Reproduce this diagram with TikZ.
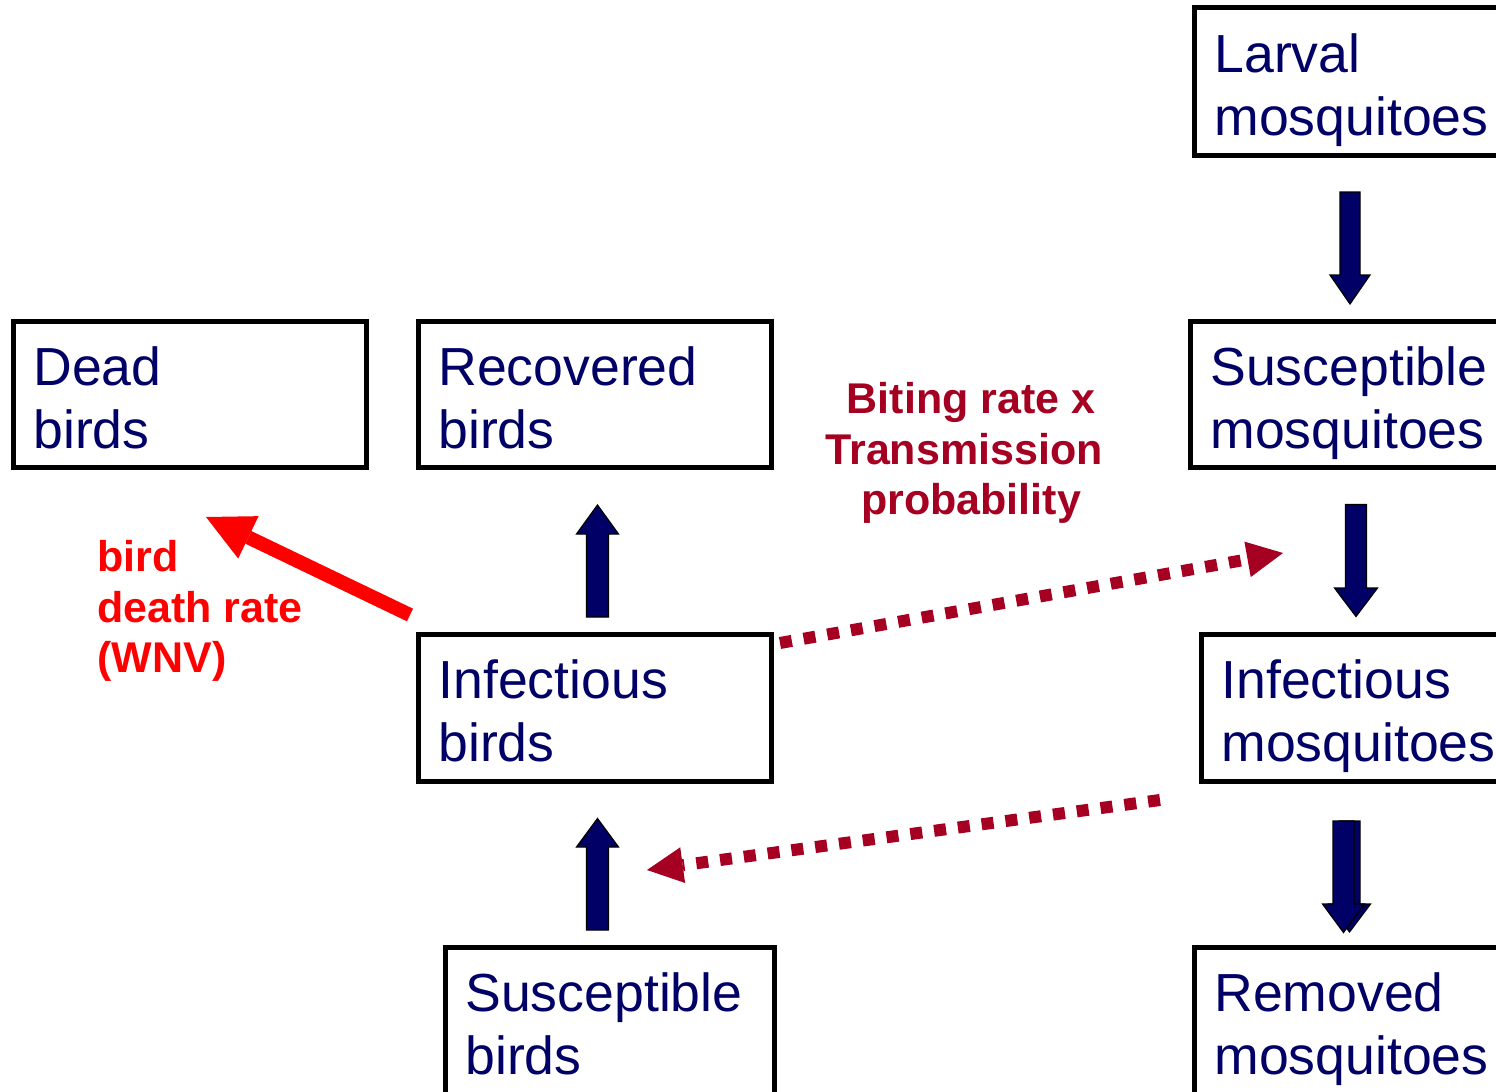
\documentclass[tikz,border=0pt]{standalone}
\usepackage{fontspec}
\setmainfont{Liberation Sans}
\usetikzlibrary{arrows.meta}
\definecolor{navy}{RGB}{0,0,102}
\definecolor{dkred}{RGB}{165,0,33}
\definecolor{brred}{RGB}{255,0,0}
% block arrow: #1 x centre, #2 start y, #3 tip y, #4 shaft half width, #5 head half width, #6 head base y
\newcommand{\blockvarrow}[6]{%
  \draw[barrow] (#1-#4,#2) -- (#1+#4,#2) -- (#1+#4,#6) -- (#1+#5,#6) -- (#1,#3)
     -- (#1-#5,#6) -- (#1-#4,#6) -- cycle;}
\begin{document}
\begin{tikzpicture}[x=0.5pt,y=-0.5pt,
  box/.style={draw=black, line width=2.5pt, rectangle, inner sep=0pt, outer sep=0pt, anchor=north west},
  boxtext/.style={text=navy, font=\fontsize{26.8}{31.5}\selectfont, align=left, inner sep=0pt, anchor=north west},
  ratelabel/.style={font=\bfseries\fontsize{21.5}{25.35}\selectfont, inner sep=0pt},
  barrow/.style={fill=navy, draw=black, line width=0.6pt, line join=miter},
  dotarrow/.style={draw=dkred, line width=6pt, dash pattern=on 6pt off 6pt,
     -{Triangle[length=18pt,width=18pt,line width=0pt]}},
  deatharrow/.style={draw=brred, line width=7pt,
     -{Triangle[length=23.5pt,width=23.5pt,line width=0pt]}}
]
\useasboundingbox (0,0) rectangle (1496,1092);
\clip (0,0) rectangle (1496,1092);

% boxes (line-centre rectangles)
\node[box, minimum width=200pt, minimum height=73.75pt] (lm) at (1194,7.5) {};
\node[box, minimum width=200pt, minimum height=73pt]    (sm) at (1190,321) {};
\node[box, minimum width=200pt, minimum height=73.5pt]  (im) at (1201,634) {};
\node[box, minimum width=200pt, minimum height=100pt]   (rm) at (1194,947) {};
\node[box, minimum width=176.5pt, minimum height=73pt]  (db) at (13,321) {};
\node[box, minimum width=176.5pt, minimum height=73pt]  (rb) at (418,321) {};
\node[box, minimum width=176.5pt, minimum height=73.5pt] (ib) at (418,634) {};
\node[box, minimum width=164.5pt, minimum height=100pt] (sb) at (445,947) {};

% box texts
\node[boxtext] (lm-t) at ([shift={(20,25.6)}]lm.north west) {Larval\\mosquitoes};
\node[boxtext] (sm-t) at ([shift={(20,25.6)}]sm.north west) {Susceptible\\mosquitoes};
\node[boxtext] (im-t) at ([shift={(20,25.6)}]im.north west) {Infectious\\mosquitoes};
\node[boxtext] (rm-t) at ([shift={(20,25.6)}]rm.north west) {Removed\\mosquitoes};
\node[boxtext] (db-t) at ([shift={(20,25.6)}]db.north west) {Dead\\birds};
\node[boxtext] (rb-t) at ([shift={(20,25.6)}]rb.north west) {Recovered\\birds};
\node[boxtext] (ib-t) at ([shift={(20,25.6)}]ib.north west) {Infectious\\birds};
\node[boxtext] (sb-t) at ([shift={(20,25.6)}]sb.north west) {Susceptible\\birds};

% rate labels
\node[ratelabel, text=dkred, align=center, anchor=north] (bite) at (964,382)
  {\hspace*{7pt}Biting rate x\\Transmission\\\hspace*{7pt}probability};
\node[ratelabel, text=brred, align=left, anchor=north west] (death) at (97,540)
  {bird\\death rate\\(WNV)};

% block arrows (flows)
\blockvarrow{1350}{192}{304}{10}{20}{275}
\blockvarrow{1356}{504.5}{616.5}{10.5}{21.5}{588}
\blockvarrow{597.5}{617}{505}{11}{21}{534}
\blockvarrow{597.5}{930}{818.5}{11}{21}{847}
\blockvarrow{1349.5}{821}{932}{10.5}{21}{904}
\blockvarrow{1343.5}{821}{932.5}{10.5}{21}{904}

% transmission (dotted) arrows
\coordinate (ib-out) at (780,643);
\coordinate (sm-in)  at (1283,553);
\coordinate (im-out) at (1160,800);
\coordinate (sb-in)  at (647,870);
\draw[dotarrow] (ib-out) -- (sm-in);
\draw[dotarrow] (im-out) -- (sb-in);

% death arrow
\coordinate (death-from) at (410,615);
\coordinate (death-to)   at (206,517);
\draw[deatharrow] (death-from) -- (death-to);
\end{tikzpicture}
\end{document}
